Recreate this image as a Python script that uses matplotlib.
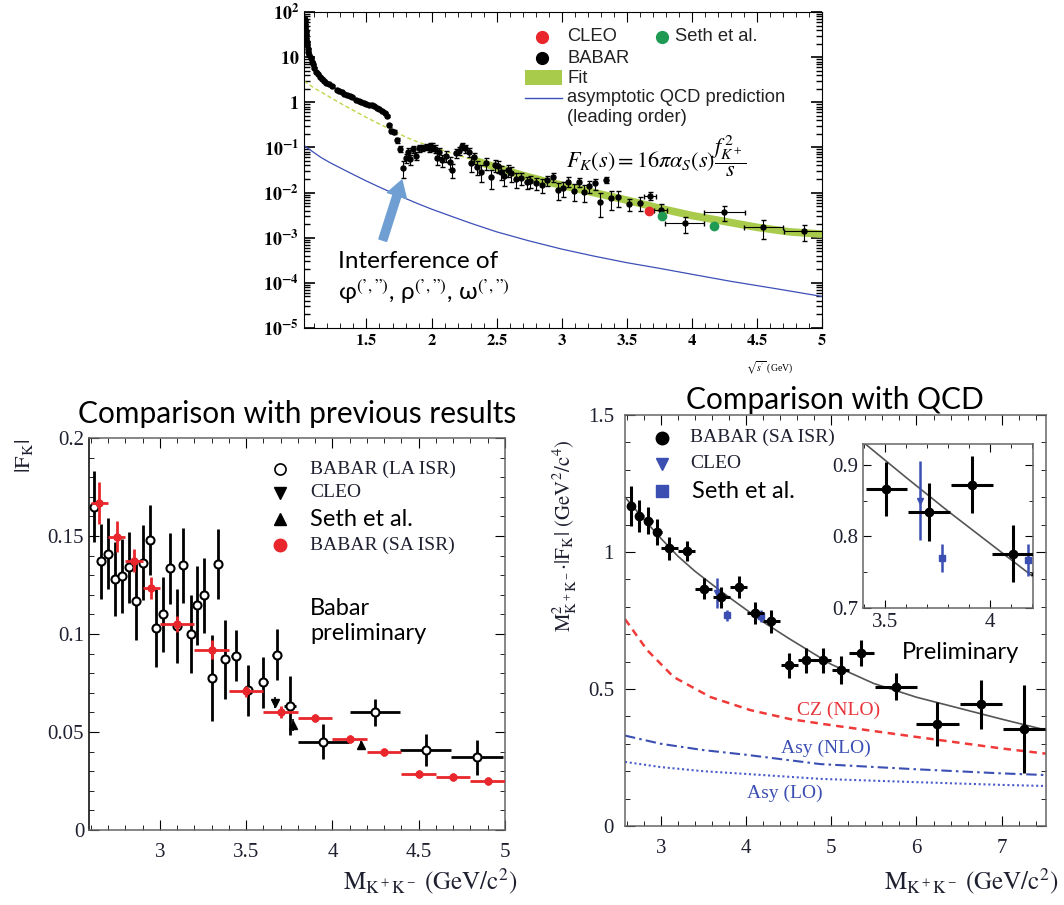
import math
import matplotlib
matplotlib.use('Agg')
import matplotlib.pyplot as plt
from matplotlib.patches import Rectangle
from matplotlib.ticker import MultipleLocator, LogLocator, FixedLocator, FuncFormatter, NullFormatter

plt.rcParams['mathtext.fontset'] = 'stix'
plt.rcParams['font.family'] = ['Liberation Serif', 'DejaVu Serif']

W, H = 1064, 905
SANS = ['Lato', 'DejaVu Sans']
ARIAL = 'Liberation Sans'
INK = '#1e2030'
RED = '#e8262c'
GREEN = '#1f9a52'
BLUE = '#3b4fb3'
FIT_GREEN = '#a9cb4c'

# |F_K+|^2 vs sqrt(s'), BABAR narrow bins
top_x = [1.023, 1.025, 1.028, 1.030, 1.033, 1.035, 1.038, 1.040, 1.044, 1.048,
         1.054, 1.060, 1.070, 1.080, 1.090, 1.100, 1.115, 1.125, 1.140, 1.155,
         1.170, 1.190, 1.210, 1.236, 1.270, 1.290, 1.310, 1.330, 1.350, 1.370,
         1.390, 1.420, 1.440, 1.460, 1.480, 1.500, 1.520, 1.540, 1.560, 1.580,
         1.600, 1.620, 1.640, 1.660, 1.670, 1.690, 1.710, 1.736, 1.756, 1.777,
         1.800, 1.818, 1.838, 1.860, 1.880, 1.900, 1.930, 1.954, 1.980, 1.990,
         2.005, 2.030, 2.044, 2.056, 2.080, 2.108, 2.140, 2.160, 2.185, 2.210,
         2.236, 2.260, 2.287, 2.300, 2.325, 2.346, 2.377, 2.415, 2.454, 2.485,
         2.510, 2.536, 2.556, 2.587, 2.613, 2.646, 2.685, 2.730, 2.760, 2.800,
         2.850, 2.890, 2.930, 2.970, 3.010, 3.050, 3.095, 3.136, 3.170, 3.213,
         3.254, 3.295, 3.338, 3.377, 3.433, 3.515, 3.598]
top_y = [75, 65, 53, 45, 37, 32, 26, 22, 18.6, 15.5,
         13.2, 11, 9.4, 8, 6.9, 5.8, 4.8, 4.2, 3.7, 3.3,
         2.95, 2.7, 2.5, 2.29, 1.87, 1.75, 1.66, 1.55, 1.45, 1.38,
         1.31, 1.12, 1.06, 1.0, 0.95, 0.90, 0.89, 0.87, 0.82, 0.76,
         0.70, 0.64, 0.57, 0.505, 0.31, 0.235, 0.22, 0.146, 0.092, 0.0355,
         0.059, 0.080, 0.055, 0.092, 0.066, 0.095, 0.099, 0.104, 0.095, 0.107,
         0.104, 0.092, 0.057, 0.080, 0.052, 0.065, 0.048, 0.032, 0.076, 0.085,
         0.107, 0.095, 0.080, 0.045, 0.060, 0.037, 0.029, 0.046, 0.022, 0.041,
         0.039, 0.029, 0.023, 0.032, 0.027, 0.0196, 0.0207, 0.0174, 0.0183, 0.016,
         0.0148, 0.019, 0.0224, 0.0114, 0.0124, 0.0174, 0.011, 0.0174, 0.0105, 0.014,
         0.016, 0.0063, 0.019, 0.0075, 0.0079, 0.0056, 0.006]
top_rel = [0.03, 0.03, 0.03, 0.03, 0.03, 0.03, 0.03, 0.03, 0.03, 0.03,
           0.03, 0.03, 0.03, 0.03, 0.03, 0.03, 0.03, 0.03, 0.03, 0.03,
           0.03, 0.03, 0.03, 0.03, 0.03, 0.03, 0.03, 0.03, 0.03, 0.03,
           0.04, 0.04, 0.04, 0.04, 0.04, 0.04, 0.04, 0.04, 0.04, 0.04,
           0.04, 0.04, 0.05, 0.05, 0.08, 0.10, 0.10, 0.12, 0.15, 0.40,
           0.22, 0.20, 0.25, 0.18, 0.22, 0.18, 0.16, 0.16, 0.18, 0.16,
           0.18, 0.20, 0.30, 0.22, 0.30, 0.25, 0.30, 0.35, 0.22, 0.20,
           0.18, 0.20, 0.22, 0.35, 0.28, 0.35, 0.40, 0.30, 0.45, 0.30,
           0.30, 0.35, 0.40, 0.30, 0.35, 0.35, 0.30, 0.30, 0.30, 0.30,
           0.35, 0.25, 0.22, 0.40, 0.35, 0.25, 0.40, 0.22, 0.40, 0.30,
           0.28, 0.55, 0.15, 0.45, 0.40, 0.30, 0.35]

# BABAR wide bins at high mass
top_bin_x = [3.680, 3.760, 3.946, 4.250, 4.550, 4.860]
top_bin_y = [0.0084, 0.0041, 0.0021, 0.0037, 0.0017, 0.0014]
top_bin_rel = [0.20, 0.35, 0.40, 0.35, 0.45, 0.40]
top_bin_half = [0.045, 0.05, 0.15, 0.155, 0.15, 0.15]

top_cleo_x, top_cleo_y = [3.67], [0.0040]
top_seth_x, top_seth_y = [3.77, 4.167], [0.0030, 0.00185]

fit_x = [1.02, 1.1, 1.2, 1.3, 1.4, 1.5, 1.6, 1.7, 1.8, 1.9, 2.0, 2.15, 2.3,
         2.5, 2.7, 2.9, 3.1, 3.3, 3.5, 3.75, 4.0, 4.25, 4.5, 4.75, 5.0]
fit_y = [2.96, 2.05, 1.4, 0.95, 0.66, 0.46, 0.33, 0.24, 0.17, 0.13, 0.105, 0.075, 0.055,
         0.036, 0.024, 0.017, 0.0125, 0.0092, 0.0068, 0.0045, 0.0031, 0.0023, 0.0017, 0.00135, 0.0012]
FIT_BAND_FROM = 12  # fit is shown as a band from sqrt(s') = 2.3 GeV

asym_x = [1.02, 1.08, 1.15, 1.22, 1.3, 1.4, 1.5, 1.6, 1.7, 1.8, 1.9, 2.0, 2.15, 2.3,
          2.5, 2.75, 3.0, 3.25, 3.5, 3.75, 4.0, 4.3, 4.65, 5.0]
asym_y = [0.11, 0.083, 0.060, 0.046, 0.035, 0.025, 0.018, 0.0132, 0.0098, 0.0074, 0.0056,
          0.0043, 0.0030, 0.0021, 0.00135, 0.00085, 0.00056, 0.00039, 0.00028, 0.00021,
          0.000155, 0.000108, 0.000074, 0.00005]

# |F_K| comparison
la_x = [2.62, 2.659, 2.70, 2.742, 2.78, 2.82, 2.86, 2.90, 2.942, 2.98,
        3.02, 3.06, 3.10, 3.137, 3.18, 3.218, 3.256, 3.30, 3.337, 3.38,
        3.44, 3.514, 3.60, 3.678, 3.756, 3.948, 4.245, 4.54, 4.84]
la_y = [0.165, 0.137, 0.141, 0.128, 0.1296, 0.134, 0.117, 0.1364, 0.148, 0.103,
        0.110, 0.1335, 0.1042, 0.135, 0.100, 0.1146, 0.1197, 0.0774, 0.1357, 0.087,
        0.089, 0.0714, 0.0753, 0.0893, 0.0634, 0.045, 0.060, 0.0408, 0.037]
la_err = [0.018, 0.019, 0.018, 0.019, 0.019, 0.018, 0.020, 0.019, 0.018, 0.020,
          0.019, 0.018, 0.019, 0.019, 0.020, 0.020, 0.019, 0.022, 0.018, 0.020,
          0.013, 0.013, 0.013, 0.013, 0.015, 0.009, 0.007, 0.008, 0.009]
la_xerr = [0, 0, 0, 0, 0, 0, 0, 0, 0, 0,
           0, 0, 0, 0, 0, 0, 0, 0, 0, 0,
           0.025, 0.02, 0.025, 0.025, 0.035, 0.15, 0.145, 0.15, 0.15]

sa_x = [2.65, 2.75, 2.85, 2.95, 3.1, 3.3, 3.5, 3.7, 3.9, 4.1, 4.3, 4.5, 4.7, 4.9]
sa_y = [0.1667, 0.1497, 0.1374, 0.1236, 0.105, 0.092, 0.0707, 0.0602, 0.057, 0.0463,
        0.040, 0.0286, 0.0272, 0.025]
sa_err = [0.0106, 0.0077, 0.006, 0.0055, 0.004, 0.005, 0.003, 0.003, 0.002, 0.002,
          0.002, 0.002, 0.002, 0.002]
sa_xerr = [0.05, 0.05, 0.05, 0.05, 0.1, 0.1, 0.1, 0.1, 0.1, 0.1, 0.1, 0.1, 0.1, 0.1]

ff_cleo_x, ff_cleo_y, ff_cleo_err = [3.665], [0.065], [0.003]
ff_seth_x, ff_seth_y, ff_seth_err = [3.77, 4.165], [0.0536, 0.0434], [0.003, 0.002]

# M^2 |F_K| vs QCD
qcd_x = [2.648, 2.75, 2.855, 2.96, 3.10, 3.305, 3.505, 3.708, 3.915, 4.11,
         4.295, 4.506, 4.706, 4.90, 5.113, 5.355, 5.762, 6.246, 6.756, 7.264]
qcd_y = [1.168, 1.131, 1.114, 1.074, 1.013, 1.003, 0.866, 0.834, 0.872, 0.776,
         0.748, 0.586, 0.605, 0.605, 0.569, 0.632, 0.508, 0.371, 0.444, 0.353]
qcd_err = [0.073, 0.057, 0.05, 0.047, 0.042, 0.037, 0.038, 0.04, 0.04, 0.04,
           0.042, 0.046, 0.045, 0.045, 0.05, 0.047, 0.049, 0.08, 0.09, 0.16]
qcd_xerr = [0.05, 0.05, 0.05, 0.05, 0.1, 0.1, 0.1, 0.1, 0.1, 0.1,
            0.1, 0.1, 0.1, 0.1, 0.1, 0.15, 0.25, 0.25, 0.25, 0.25]

q_cleo_x, q_cleo_y, q_cleo_err = [3.665], [0.85], [0.055]
q_seth_x, q_seth_y, q_seth_err = [3.772, 4.18], [0.77, 0.767], [0.02, 0.023]

qfit_x = [2.58, 2.8, 3.0, 3.2, 3.4, 3.6, 3.8, 4.0, 4.2, 4.5, 5.0, 5.5, 6.0, 6.5, 7.0, 7.52]
qfit_y = [1.20, 1.12, 1.05, 0.985, 0.93, 0.882, 0.835, 0.79, 0.745, 0.685, 0.59, 0.52,
          0.47, 0.43, 0.39, 0.35]
cz_x = [2.58, 2.84, 3.15, 3.58, 4.05, 4.52, 5.0, 6.0, 7.0, 7.52]
cz_y = [0.755, 0.642, 0.544, 0.471, 0.423, 0.39, 0.368, 0.325, 0.283, 0.264]
nlo_x = [2.58, 3.0, 3.5, 4.0, 4.87, 6.0, 7.0, 7.52]
nlo_y = [0.33, 0.30, 0.277, 0.26, 0.226, 0.207, 0.192, 0.186]
lo_x = [2.58, 3.0, 3.5, 4.0, 4.87, 6.0, 7.0, 7.52]
lo_y = [0.234, 0.215, 0.2, 0.19, 0.172, 0.16, 0.15, 0.146]


def px_axes(fig, left, top, right, bottom):
    """ Axes placed by pixel edges of the 1064x905 canvas """
    return fig.add_axes([left / W, 1 - bottom / H, (right - left) / W, (bottom - top) / H])


def style_ticks(ax, labelsize, major=7, minor=3.5, color=INK):
    ax.tick_params(which='both', direction='in', top=True, right=True)
    ax.tick_params(which='major', length=major, labelsize=labelsize, labelcolor=color)
    ax.tick_params(which='minor', length=minor)


def plain(v, _):
    return '%g' % v


def draw_top(fig):
    """ Log plot of |F_K|^2 with fit and LO QCD curve """
    ax = px_axes(fig, 304, 12, 822, 328)
    ax.set_yscale('log')
    ax.set_xlim(1.02, 5.0)
    ax.set_ylim(1e-5, 1e2)

    ax.plot(fit_x[:FIT_BAND_FROM + 1], fit_y[:FIT_BAND_FROM + 1], ls=(0, (3, 2)),
            color='#bcd84a', lw=1, zorder=2)
    ax.plot(fit_x[FIT_BAND_FROM:], fit_y[FIT_BAND_FROM:], color=FIT_GREEN, lw=5.5,
            solid_capstyle='butt', zorder=2)
    ax.plot(asym_x, asym_y, color='#3d4fb8', lw=0.9, zorder=2)

    ax.errorbar(top_x, top_y, yerr=[y * r for y, r in zip(top_y, top_rel)],
                fmt='o', ms=3.6, color='black', elinewidth=0.8, capsize=1.8, zorder=4)
    ax.errorbar(top_bin_x, top_bin_y, xerr=top_bin_half,
                yerr=[y * r for y, r in zip(top_bin_y, top_bin_rel)],
                fmt='o', ms=3.6, color='black', elinewidth=0.8, capsize=1.8, zorder=4)
    ax.plot(top_cleo_x, top_cleo_y, 'o', color=RED, ms=6, zorder=5)
    ax.plot(top_seth_x, top_seth_y, 'o', color=GREEN, ms=6, zorder=5)

    style_ticks(ax, 12, major=7, minor=3.5, color='black')
    ax.xaxis.set_major_locator(MultipleLocator(0.5))
    ax.xaxis.set_minor_locator(MultipleLocator(0.1))
    ax.xaxis.set_major_formatter(FuncFormatter(lambda v, _: r'$\mathbf{%g}$' % v))
    ax.yaxis.set_major_locator(FixedLocator([1e-5, 1e-4, 1e-3, 1e-2, 1e-1, 1, 10, 100]))
    ax.yaxis.set_minor_locator(LogLocator(base=10, subs=range(2, 10), numticks=20))
    ax.yaxis.set_minor_formatter(NullFormatter())
    decade = {0: r'$\mathbf{1}$', 1: r'$\mathbf{10}$'}
    ax.yaxis.set_major_formatter(FuncFormatter(
        lambda v, _: decade.get(round(math.log10(v)), r'$\mathbf{10^{%d}}$' % round(math.log10(v)))))
    ax.tick_params(axis='y', which='major', length=8, width=1.2, labelsize=13)
    ax.tick_params(axis='y', which='minor', length=4, width=1.0)

    # legend
    t = ax.transAxes
    kw = dict(transform=t, va='center', family=ARIAL, size=13.2, color='#222')
    ax.plot([0.459], [0.921], 'o', color=RED, ms=8.5, transform=t)
    ax.text(0.508, 0.921, 'CLEO', **kw)
    ax.plot([0.691], [0.921], 'o', color=GREEN, ms=8.5, transform=t)
    ax.text(0.716, 0.921, 'Seth et al.', **kw)
    ax.plot([0.459], [0.854], 'o', color='black', ms=8.5, transform=t)
    ax.text(0.508, 0.854, 'BABAR', **kw)
    ax.add_patch(Rectangle((0.427, 0.77), 0.071, 0.045, transform=t, color=FIT_GREEN, lw=0))
    ax.text(0.508, 0.79, 'Fit', **kw)
    ax.plot([0.427, 0.498], [0.728, 0.728], color='#3d4fb8', lw=1, transform=t)
    ax.text(0.508, 0.728, 'asymptotic QCD prediction', **kw)
    ax.text(0.508, 0.665, '(leading order)', **kw)
    ax.text(0.506, 0.542, r'$F_K(s) = 16\pi\alpha_S(s)\dfrac{f^{\,2}_{K^+}}{s}$', transform=t,
            va='center', size=16)

    # resonance interference note
    ax.annotate('', xy=(0.189, 0.468), xytext=(0.152, 0.278), xycoords=t, textcoords=t,
                arrowprops=dict(arrowstyle='simple,head_width=1.1,head_length=0.9,tail_width=0.45',
                                color='#6f9fd2', mutation_scale=13, shrinkA=0, shrinkB=0))
    ax.text(0.066, 0.209, 'Interference of', transform=t, va='center', family=SANS, size=17.5)
    ax.text(0.066, 0.115, "φ$^{(’,”)}$, ρ$^{(’,”)}$, ω$^{(’,”)}$", transform=t, va='center',
            family=SANS, size=17.5)

    fig.text(770 / W, 1 - 368 / H, r"$\sqrt{s'}$ (GeV)", ha='center', va='center', size=7)
    return ax


def draw_form_factor(fig):
    """ |F_K| from BABAR (two ISR methods), CLEO and Seth et al. """
    ax = px_axes(fig, 89, 438, 505, 830)
    ax.set_xlim(2.59, 5.0)
    ax.set_ylim(0, 0.2)

    ax.errorbar(la_x, la_y, yerr=la_err, xerr=la_xerr, fmt='o', ms=5.8, mfc='white',
                mec='black', mew=1.5, ecolor='black', elinewidth=2, capsize=0, zorder=3)
    ax.errorbar(sa_x, sa_y, yerr=sa_err, xerr=sa_xerr, fmt='o', ms=5, color=RED,
                elinewidth=2, capsize=0, zorder=4)
    ax.errorbar(ff_cleo_x, ff_cleo_y, yerr=ff_cleo_err, fmt='v', ms=6, color='black',
                elinewidth=1.2, capsize=0, zorder=5)
    ax.errorbar(ff_seth_x, ff_seth_y, yerr=ff_seth_err, fmt='^', ms=6, color='black',
                elinewidth=1.2, capsize=0, zorder=5)

    style_ticks(ax, 15)
    ax.xaxis.set_major_locator(MultipleLocator(0.5))
    ax.xaxis.set_minor_locator(MultipleLocator(0.1))
    ax.yaxis.set_major_locator(MultipleLocator(0.05))
    ax.yaxis.set_minor_locator(MultipleLocator(0.01))
    ax.xaxis.set_major_formatter(FuncFormatter(plain))
    ax.yaxis.set_major_formatter(FuncFormatter(plain))
    ax.tick_params(axis='x', pad=9)
    for s in ax.spines.values():
        s.set_color('#666666')
        s.set_linewidth(1.1)
    ax.spines['left'].set_color('black')

    t = ax.transAxes
    ax.plot([0.459], [0.921], 'o', ms=8, mfc='white', mec='black', mew=1.2, transform=t)
    ax.text(0.531, 0.921, 'BABAR (LA ISR)', transform=t, va='center', size=14, color=INK)
    ax.plot([0.459], [0.860], 'v', ms=8, color='black', transform=t)
    ax.text(0.531, 0.860, 'CLEO', transform=t, va='center', size=14, color=INK)
    ax.plot([0.459], [0.793], '^', ms=8, color='black', transform=t)
    ax.text(0.531, 0.793, 'Seth et al.', transform=t, va='center', family=SANS, size=17)
    ax.plot([0.459], [0.727], 'o', ms=9, color=RED, transform=t)
    ax.text(0.531, 0.727, 'BABAR (SA ISR)', transform=t, va='center', size=14, color=INK)
    ax.text(0.531, 0.533, 'Babar\npreliminary', transform=t, va='center', family=SANS,
            size=17, linespacing=1.25)

    fig.text(297 / W, 1 - 414 / H, 'Comparison with previous results', ha='center',
             va='center', family=SANS, size=21.5)
    fig.text(24 / W, 1 - 456 / H, r'$\mathrm{|F_K|}$', rotation=90, ha='center',
             va='center', size=16, color=INK)
    fig.text(517 / W, 1 - 881 / H, r'$\mathrm{M_{K^+K^-}\ (GeV/c^2)}$', ha='right',
             va='center', size=18, color=INK)
    return ax


def draw_qcd(fig):
    """ Scaled form factor against perturbative QCD predictions, with zoomed inset """
    ax = px_axes(fig, 625, 415, 1046, 826)
    ax.set_xlim(2.58, 7.52)
    ax.set_ylim(0, 1.5)

    ax.plot(qfit_x, qfit_y, color='#555555', lw=1.2, zorder=2)
    ax.plot(cz_x, cz_y, color='#f03a3a', lw=1.8, ls=(0, (3, 2.2)), zorder=2)
    ax.plot(nlo_x, nlo_y, color=BLUE, lw=1.5, ls=(0, (5, 2, 1.2, 2)), zorder=2)
    ax.plot(lo_x, lo_y, color='#4a5ccc', lw=1.5, ls=(0, (1, 1.3)), zorder=2)

    ax.errorbar(qcd_x, qcd_y, yerr=qcd_err, xerr=qcd_xerr, fmt='o', ms=6, color='black',
                elinewidth=2.2, capsize=0, zorder=4)
    ax.errorbar(q_cleo_x, q_cleo_y, yerr=q_cleo_err, fmt='v', ms=5, color=BLUE,
                elinewidth=1.8, capsize=0, zorder=3)
    ax.errorbar(q_seth_x, q_seth_y, yerr=q_seth_err, fmt='s', ms=4.5, color=BLUE,
                elinewidth=1.8, capsize=0, zorder=3)

    style_ticks(ax, 15)
    ax.xaxis.set_major_locator(MultipleLocator(1))
    ax.xaxis.set_minor_locator(MultipleLocator(0.2))
    ax.yaxis.set_major_locator(MultipleLocator(0.5))
    ax.yaxis.set_minor_locator(MultipleLocator(0.1))
    ax.xaxis.set_major_formatter(FuncFormatter(plain))
    ax.yaxis.set_major_formatter(FuncFormatter(plain))
    ax.tick_params(axis='x', pad=9)
    ax.tick_params(axis='y', pad=8)
    for s in ax.spines.values():
        s.set_color('#666666')
        s.set_linewidth(1.1)

    t = ax.transAxes
    ax.plot([0.087], [0.945], 'o', ms=9, color='black', transform=t)
    ax.text(0.155, 0.945, 'BABAR (SA ISR)', transform=t, va='center', size=14, color=INK)
    ax.plot([0.087], [0.881], 'v', ms=9, color=BLUE, transform=t)
    ax.text(0.155, 0.881, 'CLEO', transform=t, va='center', size=14, color=INK)
    ax.plot([0.087], [0.815], 's', ms=8, color=BLUE, transform=t)
    ax.text(0.16, 0.815, 'Seth et al.', transform=t, va='center', family=SANS, size=17)
    ax.text(0.658, 0.423, 'Preliminary', transform=t, va='center', family=SANS, size=17)
    ax.text(0.409, 0.282, 'CZ (NLO)', transform=t, va='center', size=14, color='#e8343a')
    ax.text(0.371, 0.189, 'Asy (NLO)', transform=t, va='center', size=14, color=BLUE)
    ax.text(0.290, 0.080, 'Asy (LO)', transform=t, va='center', size=14, color=BLUE)

    fig.text(835 / W, 1 - 400 / H, 'Comparison with QCD', ha='center', va='center',
             family=SANS, size=21.5)
    fig.text(565 / W, 1 - 536 / H, r'$\mathrm{M^2_{K^+K^-}{\cdot}|F_K|\ (GeV^2/c^4)}$',
             rotation=90, ha='center', va='center', size=15, color=INK)
    fig.text(1058 / W, 1 - 881 / H, r'$\mathrm{M_{K^+K^-}\ (GeV/c^2)}$', ha='right',
             va='center', size=18, color=INK)

    ins = px_axes(fig, 863, 444, 1033, 608)
    ins.set_xlim(3.393, 4.205)
    ins.set_ylim(0.7, 0.929)
    ins.plot(qfit_x, qfit_y, color='#555555', lw=1.2, zorder=2)
    ins.errorbar(qcd_x, qcd_y, yerr=qcd_err, xerr=qcd_xerr, fmt='o', ms=6, color='black',
                 elinewidth=2.2, capsize=0, zorder=4)
    ins.errorbar(q_cleo_x, q_cleo_y, yerr=q_cleo_err, fmt='v', ms=5, color=BLUE,
                 elinewidth=1.8, capsize=0, zorder=3)
    ins.errorbar(q_seth_x, q_seth_y, yerr=q_seth_err, fmt='s', ms=5, color=BLUE,
                 elinewidth=1.8, capsize=0, zorder=3)
    style_ticks(ins, 15, major=6, minor=3)
    ins.xaxis.set_major_locator(MultipleLocator(0.5))
    ins.xaxis.set_minor_locator(MultipleLocator(0.1))
    ins.yaxis.set_major_locator(MultipleLocator(0.1))
    ins.yaxis.set_minor_locator(MultipleLocator(0.05))
    ins.xaxis.set_major_formatter(FuncFormatter(plain))
    ins.yaxis.set_major_formatter(FuncFormatter(plain))
    for s in ins.spines.values():
        s.set_color('#666666')
        s.set_linewidth(1.1)
    return ax, ins


fig = plt.figure(figsize=(W / 100, H / 100), dpi=100)
fig.patch.set_facecolor('white')
draw_top(fig)
draw_form_factor(fig)
draw_qcd(fig)
fig.savefig('out.png', dpi=100)
